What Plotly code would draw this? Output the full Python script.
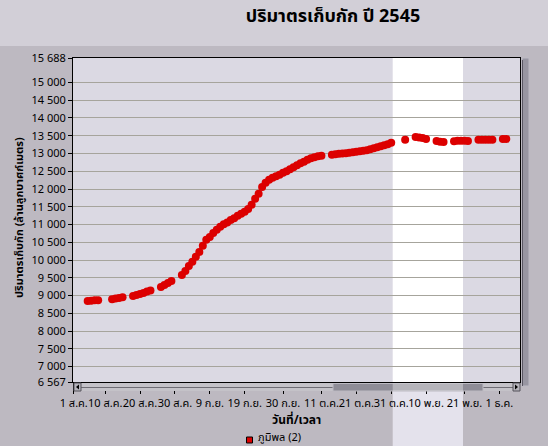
import datetime as dt
import plotly.graph_objects as go

# ---------------- data ----------------
series_name = "ภูมิพล (2)"
title_text = "ปริมาตรเก็บกัก ปี 2545"
y_title = "ปริมาตรเก็บกัก (ล้านลูกบาศก์เมตร)"
x_title = "วันที่/เวลา"

# day offset from 1 Aug 2002 (2545 BE) and storage volume (million m3)
day_offsets = [4, 5, 6, 7,
               11, 12, 13, 14,
               17, 18, 19, 20, 21, 22,
               25, 26, 27, 28,
               31, 32, 33, 34, 35, 36, 37, 38, 39, 40, 41, 42, 43, 44, 45, 46, 47, 48, 49, 50,
               51, 52, 53, 54, 55, 56, 57, 58, 59, 60, 61, 62, 63, 64, 65, 66, 67, 68, 69, 70, 71,
               74, 75, 76, 77, 78, 79, 80, 81, 82, 83, 84, 85, 86, 87, 88, 89, 90, 91,
               95,
               98, 99, 100, 101,
               104, 105, 106,
               109, 110, 111, 112, 113,
               116, 117, 118, 119, 120,
               123, 124]
storage = [8850, 8855, 8865, 8870,
           8900, 8915, 8935, 8950,
           8990, 9018, 9047, 9075, 9117, 9145,
           9240, 9300, 9357, 9413,
           9580, 9690, 9830, 9950, 10090, 10230, 10400, 10570, 10650, 10760, 10850, 10935, 11005, 11060, 11130, 11180, 11245, 11300, 11360, 11440,
           11555, 11725, 11865, 12060, 12175, 12260, 12315, 12360, 12400, 12455, 12500, 12555, 12610, 12670, 12725, 12765, 12825, 12865, 12895, 12920, 12935,
           12965, 12978, 12990, 13000, 13010, 13020, 13035, 13048, 13060, 13075, 13090, 13118, 13147, 13175, 13203, 13230, 13260, 13300,
           13390,
           13465, 13450, 13435, 13410,
           13350, 13330, 13325,
           13345, 13355, 13360, 13358, 13352,
           13385, 13388, 13388, 13388, 13385,
           13405, 13408]

start_date = dt.date(2002, 8, 1)
dates = [start_date + dt.timedelta(days=d) for d in day_offsets]

x_tick_dates = ["2002-08-01", "2002-08-10", "2002-08-20", "2002-08-30", "2002-09-09",
                "2002-09-19", "2002-09-30", "2002-10-11", "2002-10-21", "2002-10-31",
                "2002-11-10", "2002-11-21", "2002-12-01"]
x_tick_labels = ["1 ส.ค.", "10 ส.ค.", "20 ส.ค.", "30 ส.ค.", "9 ก.ย.", "19 ก.ย.", "30 ก.ย.",
                 "11 ต.ค.", "21 ต.ค.", "31 ต.ค.", "10 พ.ย.", "21 พ.ย.", "1 ธ.ค."]
y_tick_vals = [6567, 7000, 7500, 8000, 8500, 9000, 9500, 10000, 10500, 11000,
               11500, 12000, 12500, 13000, 13500, 14000, 14500, 15000, 15688]
y_tick_labels = [f"{v:,}".replace(",", " ") for v in y_tick_vals]

# ---------------- figure ----------------
W, H = 548, 446
L, R, T, B = 73, 28, 58, 64
pw, ph = W - L - R, H - T - B


def px(xp):
    return (xp - L) / pw


def py(yp):
    return (H - B - yp) / ph


FONT = "Tahoma, 'Noto Sans Thai', 'Noto Sans', 'DejaVu Sans', sans-serif"

fig = go.Figure()
fig.add_trace(go.Scatter(
    x=dates, y=storage, mode="markers", name=series_name,
    marker=dict(size=8, color="#dc0000", line=dict(width=0)),
    showlegend=False,
))

shapes = [
    # lighter top band
    dict(type="rect", xref="paper", yref="paper", x0=px(0), x1=px(W), y0=py(0), y1=py(46),
         fillcolor="#d2cfd7", line=dict(width=0), layer="below"),
    # white highlight band in plot
    dict(type="rect", xref="paper", yref="paper", x0=px(392.7), x1=px(463), y0=0, y1=1,
         fillcolor="#ffffff", line=dict(width=0), layer="below"),
    # band below plot
    dict(type="rect", xref="paper", yref="paper", x0=px(392.7), x1=px(463), y0=py(H), y1=0,
         fillcolor="#e4e2ec", line=dict(width=0), layer="below"),
    # horizontal scrollbar track
    dict(type="rect", xref="paper", yref="paper", x0=px(74), x1=px(520), y0=py(391), y1=py(383),
         fillcolor="#c4c2c8", line=dict(width=0), layer="above"),
    dict(type="line", xref="paper", yref="paper", x0=px(81), x1=px(513), y0=py(387.5), y1=py(387.5),
         line=dict(color="#6e6c74", width=1), layer="above"),
    # thumb
    dict(type="rect", xref="paper", yref="paper", x0=px(333), x1=px(483), y0=py(391), y1=py(383.5),
         fillcolor="#8e8c96", line=dict(color="#bcbac2", width=1), layer="above"),
    dict(type="rect", xref="paper", yref="paper", x0=px(392.7), x1=px(463), y0=py(391), y1=py(383.5),
         fillcolor="#ffffff", opacity=0.35, line=dict(width=0), layer="above"),
    # scroll buttons
    dict(type="rect", xref="paper", yref="paper", x0=px(74), x1=px(81), y0=py(391), y1=py(383),
         fillcolor="#b4b2ba", line=dict(color="#55535a", width=1), layer="above"),
    dict(type="rect", xref="paper", yref="paper", x0=px(513), x1=px(520), y0=py(391), y1=py(383),
         fillcolor="#b4b2ba", line=dict(color="#55535a", width=1), layer="above"),
    dict(type="path", xref="paper", yref="paper",
         path=f"M {px(76)} {py(387)} L {px(79)} {py(384.5)} L {px(79)} {py(389.5)} Z",
         fillcolor="#000000", line=dict(width=0), layer="above"),
    dict(type="path", xref="paper", yref="paper",
         path=f"M {px(518)} {py(387)} L {px(515)} {py(384.5)} L {px(515)} {py(389.5)} Z",
         fillcolor="#000000", line=dict(width=0), layer="above"),
    # right vertical scrollbar
    dict(type="rect", xref="paper", yref="paper", x0=px(522), x1=px(529), y0=py(386), y1=py(58),
         fillcolor="#9896a2", line=dict(color="#bcbac4", width=1), layer="above"),
    dict(type="line", xref="paper", yref="paper", x0=px(522.5), x1=px(522.5), y0=py(386), y1=py(60),
         line=dict(color="#5a5864", width=1), layer="above"),
    # legend square
    dict(type="rect", xref="paper", yref="paper", x0=px(246.5), x1=px(252.5), y0=py(443), y1=py(437),
         fillcolor="#dc0000", line=dict(color="#000000", width=1), layer="above"),
]

annotations = [
    dict(text=f"<b>{y_title}</b>", xref="paper", yref="paper", x=px(19), y=py(218),
         textangle=-90, showarrow=False, xanchor="center", yanchor="middle",
         font=dict(size=11, color="#000000", family=FONT)),
    dict(text=f"<b>{x_title}</b>", xref="paper", yref="paper", x=px(296), y=py(419.5),
         showarrow=False, xanchor="center", yanchor="middle",
         font=dict(size=12, color="#000000", family=FONT)),
    dict(text=series_name, xref="paper", yref="paper", x=px(256), y=py(437.5),
         showarrow=False, xanchor="left", yanchor="middle",
         font=dict(size=11, color="#000000", family=FONT)),
]

fig.update_layout(
    width=W, height=H,
    margin=dict(l=L, r=R, t=T, b=B),
    paper_bgcolor="#bdb9c1",
    plot_bgcolor="#dbd9e3",
    font=dict(family=FONT, size=11, color="#000000"),
    title=dict(text=f"<b>{title_text}</b>", x=333 / W, y=1 - 16 / H, xanchor="center",
               yanchor="middle", xref="container", yref="container",
               font=dict(size=18, color="#000000", family=FONT)),
    shapes=shapes,
    annotations=annotations,
    showlegend=False,
    xaxis=dict(
        type="date",
        range=["2002-07-31 19:00", "2002-12-06 22:00"],
        tickvals=x_tick_dates, ticktext=x_tick_labels,
        ticks="outside", ticklen=11, tickcolor="#000000", tickwidth=1,
        showgrid=False, zeroline=False,
        showline=True, linecolor="#000000", linewidth=1, mirror=True,
        tickfont=dict(size=11, color="#000000", family=FONT),
        tickangle=0,
    ),
    yaxis=dict(
        range=[6567, 15688],
        tickvals=y_tick_vals, ticktext=y_tick_labels,
        ticks="outside", ticklen=4, tickcolor="#000000", tickwidth=1,
        showgrid=True, gridcolor="#a6a49c", gridwidth=1,
        zeroline=False,
        showline=True, linecolor="#000000", linewidth=1, mirror=True,
        tickfont=dict(size=11, color="#000000", family=FONT),
    ),
)

fig.write_html("out.html", config={"displayModeBar": False},
               post_script="document.body.style.margin='0';document.body.style.overflow='hidden';")
